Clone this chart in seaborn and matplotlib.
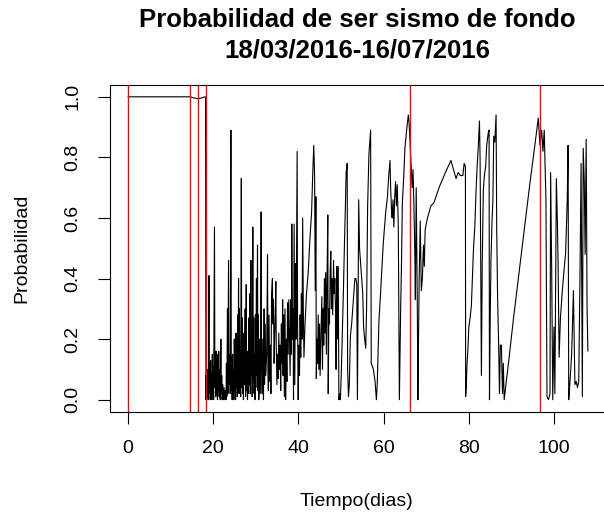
import matplotlib
matplotlib.use("Agg")
import matplotlib.pyplot as plt
import seaborn as sns
import pandas as pd

# ---------------- data ----------------
titulo = ["Probabilidad de ser sismo de fondo", "18/03/2016-16/07/2016"]
etiqueta_x = "Tiempo(dias)"
etiqueta_y = "Probabilidad"

# days of the large events (red vertical lines)
eventos = [0.0, 14.5, 16.5, 18.2, 66.1, 96.6]

ticks_x = [0, 20, 40, 60, 80, 100]
ticks_y = [0.0, 0.2, 0.4, 0.6, 0.8, 1.0]
ticks_y_lbl = ["0.0", "0.2", "0.4", "0.6", "0.8", "1.0"]

dias_a = [0.0, 14.6, 15.3, 16.2, 17.2, 18.0, 18.2]
prob_a = [1.0, 1.0, 0.997, 0.994, 0.996, 1.0, 0.999]

dias_b = [18.30, 18.35, 18.45, 18.55, 18.65, 18.75, 18.85, 19.00, 19.10, 19.20,
          19.30, 19.40, 19.50, 19.60, 19.70, 19.80, 19.90, 20.00, 20.10, 20.30,
          20.40, 20.50, 20.60, 20.70, 20.80, 20.90, 21.00, 21.10, 21.20, 21.30,
          21.40, 21.55, 21.65, 21.80, 21.90, 22.00, 22.10, 22.25, 22.40, 22.55,
          22.70, 22.85, 23.00, 23.10, 23.20, 23.35, 23.45, 23.60, 23.70, 23.85,
          24.00, 24.15, 24.25, 24.35, 24.45, 24.55, 24.65, 24.75, 24.85, 24.95,
          25.05, 25.15, 25.25, 25.35, 25.45, 25.55, 25.65, 25.75, 25.85, 25.95,
          26.05, 26.15, 26.25, 26.35, 26.45, 26.60, 26.70, 26.80, 26.90, 27.00,
          27.10, 27.25, 27.35, 27.50, 27.60, 27.75, 27.85, 27.95, 28.05, 28.15,
          28.25, 28.35, 28.45, 28.60, 28.70, 28.85, 28.95, 29.05, 29.15, 29.30,
          29.40, 29.50, 29.60, 29.70, 29.80, 29.90, 30.00, 30.15, 30.25, 30.40,
          30.50, 30.60, 30.70, 30.85, 30.95]
prob_b = [0.00, 0.08, 0.00, 0.07, 0.01, 0.10, 0.00, 0.41, 0.02, 0.12,
          0.00, 0.13, 0.03, 0.09, 0.00, 0.15, 0.02, 0.11, 0.00, 0.57,
          0.04, 0.14, 0.01, 0.16, 0.02, 0.12, 0.00, 0.15, 0.03, 0.16,
          0.01, 0.10, 0.00, 0.20, 0.02, 0.08, 0.00, 0.05, 0.00, 0.04,
          0.00, 0.03, 0.00, 0.12, 0.01, 0.30, 0.02, 0.46, 0.05, 0.15,
          0.02, 0.89, 0.03, 0.14, 0.00, 0.15, 0.02, 0.10, 0.00, 0.20,
          0.03, 0.12, 0.00, 0.22, 0.04, 0.18, 0.01, 0.28, 0.05, 0.40,
          0.02, 0.30, 0.06, 0.15, 0.01, 0.73, 0.04, 0.27, 0.02, 0.18,
          0.00, 0.22, 0.05, 0.30, 0.01, 0.38, 0.03, 0.16, 0.00, 0.12,
          0.02, 0.27, 0.05, 0.35, 0.02, 0.46, 0.08, 0.22, 0.01, 0.57,
          0.06, 0.27, 0.02, 0.15, 0.00, 0.28, 0.04, 0.40, 0.08, 0.51,
          0.03, 0.28, 0.00, 0.20, 0.02]

dias_c = [31.10, 31.25, 31.35, 31.50, 31.65, 31.80, 31.95, 32.05, 32.20, 32.35,
          32.55, 32.75, 32.85, 32.95, 33.10, 33.25, 33.40, 33.55, 33.70, 33.90,
          34.00, 34.15, 34.30, 34.45, 34.60, 34.70, 34.80, 34.95, 35.10, 35.25,
          35.40, 35.55, 35.70, 35.85, 36.00, 36.15, 36.30, 36.40, 36.55, 36.70,
          36.85, 37.00, 37.15, 37.30, 37.45, 37.60, 37.75, 37.90, 38.05, 38.20,
          38.35, 38.45, 38.60, 38.75, 38.85, 39.00, 39.15, 39.30, 39.45, 39.70,
          39.80, 39.95, 40.10, 40.25, 40.40, 40.55, 40.70, 40.85, 41.00, 41.15,
          41.30, 41.55, 41.90, 42.30, 42.70, 43.10, 43.35, 43.60, 43.80, 43.95,
          44.10, 44.20]
prob_c = [0.10, 0.62, 0.12, 0.02, 0.20, 0.00, 0.30, 0.05, 0.25, 0.08,
          0.15, 0.48, 0.10, 0.03, 0.28, 0.06, 0.18, 0.02, 0.35, 0.40,
          0.25, 0.33, 0.12, 0.22, 0.30, 0.39, 0.18, 0.05, 0.15, 0.07,
          0.22, 0.10, 0.18, 0.03, 0.25, 0.12, 0.33, 0.08, 0.28, 0.01,
          0.30, 0.00, 0.20, 0.06, 0.32, 0.15, 0.33, 0.20, 0.08, 0.33,
          0.15, 0.58, 0.20, 0.30, 0.00, 0.58, 0.05, 0.45, 0.20, 0.82,
          0.25, 0.00, 0.18, 0.08, 0.28, 0.14, 0.35, 0.20, 0.60, 0.30,
          0.14, 0.25, 0.35, 0.42, 0.53, 0.62, 0.74, 0.84, 0.74, 0.36,
          0.67, 0.07]

dias_d = [44.35, 44.50, 44.65, 44.80, 44.95, 45.10, 45.30, 45.50, 45.65, 45.80,
          45.95, 46.10, 46.25, 46.40, 46.55, 46.70, 46.90, 47.00, 47.15, 47.30,
          47.45, 47.60, 47.75, 47.90, 48.05, 48.25, 48.40, 48.55, 48.70, 48.85,
          49.00, 49.15, 49.35, 49.50, 49.70, 49.85, 50.05, 50.30, 50.55, 50.80,
          51.00, 51.20, 51.45, 51.55, 51.75, 51.95, 52.20, 52.50, 52.75, 53.00,
          53.25, 53.50, 53.70, 53.85, 54.00, 54.15, 54.35, 54.60, 54.85, 55.10,
          55.30, 55.55, 55.80, 56.00, 56.25, 56.55, 56.95, 57.10, 57.60, 58.00,
          58.30]
prob_d = [0.20, 0.12, 0.28, 0.10, 0.25, 0.08, 0.22, 0.34, 0.10, 0.30,
          0.18, 0.40, 0.22, 0.42, 0.15, 0.38, 0.61, 0.02, 0.30, 0.25,
          0.42, 0.49, 0.30, 0.40, 0.28, 0.46, 0.35, 0.40, 0.30, 0.10,
          0.44, 0.20, 0.44, 0.00, 0.02, 0.00, 0.08, 0.21, 0.35, 0.51,
          0.62, 0.75, 0.78, 0.10, 0.01, 0.05, 0.21, 0.25, 0.30, 0.35,
          0.40, 0.40, 0.38, 0.00, 0.30, 0.66, 0.50, 0.45, 0.40, 0.35,
          0.24, 0.20, 0.17, 0.30, 0.64, 0.81, 0.89, 0.12, 0.10, 0.06,
          0.00]

dias_e = [58.50, 58.70, 58.90, 59.20, 59.50, 59.85, 60.10, 60.50, 60.90, 61.20,
          61.50, 61.65, 61.85, 62.00, 62.20, 62.40, 62.60, 62.80, 63.00, 63.20,
          63.45, 63.70, 63.85, 64.00, 64.20, 64.40, 64.70, 65.00, 65.40, 65.80,
          66.00, 66.20, 66.45, 66.70, 66.90, 67.10, 67.35, 67.45, 67.65, 67.90,
          68.05, 68.15, 68.35, 68.60, 68.85, 69.10, 69.35, 69.55, 69.75, 70.00,
          70.30]
prob_e = [0.05, 0.15, 0.26, 0.33, 0.41, 0.50, 0.55, 0.62, 0.67, 0.74,
          0.79, 0.70, 0.63, 0.60, 0.66, 0.57, 0.67, 0.72, 0.64, 0.71,
          0.57, 0.00, 0.16, 0.30, 0.45, 0.65, 0.73, 0.83, 0.89, 0.94,
          0.91, 0.85, 0.77, 0.70, 0.76, 0.65, 0.46, 0.33, 0.70, 0.33,
          0.00, 0.15, 0.40, 0.59, 0.36, 0.40, 0.51, 0.44, 0.56, 0.58,
          0.60]

dias_f = [71.10, 71.80, 73.00, 74.50, 75.80, 76.40, 77.00, 77.50, 78.00, 78.60,
          78.90, 79.20, 79.25]
prob_f = [0.64, 0.65, 0.70, 0.75, 0.79, 0.76, 0.73, 0.75, 0.74, 0.74,
          0.78, 0.77, 0.01]

dias_g = [79.40, 79.55, 79.80, 80.00, 80.30, 80.60, 80.85, 81.10, 81.40, 81.70,
          81.95, 82.20, 82.50, 82.65, 82.95, 83.15, 83.40, 83.65, 83.95, 84.20,
          84.55, 84.75, 84.85, 85.00, 85.20, 85.45, 85.65, 85.85, 86.10, 86.40,
          86.55, 86.75, 87.00, 87.20, 87.40, 87.65, 87.90, 88.10, 88.30]
prob_g = [0.04, 0.11, 0.17, 0.24, 0.27, 0.31, 0.41, 0.50, 0.57, 0.69,
          0.77, 0.83, 0.92, 0.79, 0.08, 0.45, 0.69, 0.74, 0.77, 0.84,
          0.88, 0.89, 0.00, 0.24, 0.46, 0.59, 0.66, 0.87, 0.85, 0.94,
          0.56, 0.34, 0.18, 0.02, 0.18, 0.18, 0.02, 0.12, 0.00]

dias_h = [89.30, 90.50, 91.80, 93.00, 94.30, 95.50, 96.30]
prob_h = [0.12, 0.27, 0.42, 0.56, 0.71, 0.84, 0.93]

dias_i = [96.70, 97.10, 97.40, 97.70, 98.10, 98.35, 98.70, 99.05, 99.20, 99.45,
          99.70, 100.00, 100.20, 100.55, 100.80, 100.95, 101.20, 101.50, 101.90, 102.30,
          102.70, 103.10, 103.30, 103.45, 103.70, 104.10, 104.30, 104.55, 104.90, 105.20,
          105.50, 105.80, 106.10, 106.35, 106.65, 106.85, 107.10, 107.30, 107.55, 107.75,
          107.95]
prob_i = [0.84, 0.89, 0.82, 0.89, 0.66, 0.01, 0.00, 0.02, 0.75, 0.43,
          0.00, 0.24, 0.02, 0.73, 0.58, 0.45, 0.14, 0.27, 0.35, 0.42,
          0.48, 0.66, 0.84, 0.00, 0.05, 0.14, 0.23, 0.36, 0.05, 0.06,
          0.04, 0.06, 0.42, 0.78, 0.01, 0.83, 0.72, 0.48, 0.86, 0.31,
          0.16]

dias = dias_a + dias_b + dias_c + dias_d + dias_e + dias_f + dias_g + dias_h + dias_i
prob = prob_a + prob_b + prob_c + prob_d + prob_e + prob_f + prob_g + prob_h + prob_i
df = pd.DataFrame({"dias": dias, "prob": prob})

# ---------------- figure ----------------
sns.set_style("ticks")
plt.rcParams["font.family"] = ["Liberation Sans", "DejaVu Sans"]
plt.rcParams["text.color"] = "black"

W, H = 604, 518
fig = plt.figure(figsize=(W / 100, H / 100), dpi=100)
x0, x1 = -4.318, 112.27
left_px, right_px = 109.6, 606.3
top_px, bot_px = 84.7, 411.8
ax = fig.add_axes([left_px / W, 1 - bot_px / H, (right_px - left_px) / W, (bot_px - top_px) / H])

sns.lineplot(data=df, x="dias", y="prob", ax=ax, color="black", linewidth=0.8,
             sort=False, estimator=None, errorbar=None)
for e in eventos:
    ax.axvline(e, color="red", linewidth=1.0, zorder=3)

ax.set_xlim(x0, x1)
ax.set_ylim(-0.04, 1.04)
ax.set_xticks(ticks_x)
ax.set_xticklabels([str(t) for t in ticks_x])
ax.set_yticks(ticks_y)
ax.set_yticklabels(ticks_y_lbl, rotation=90, va="center")
ax.tick_params(axis="both", length=8.5, width=0.8, color="black", labelsize=14, labelcolor="black")
ax.tick_params(axis="x", pad=12)
ax.tick_params(axis="y", pad=12)
for s in ax.spines.values():
    s.set_visible(True)
    s.set_color("black")
    s.set_linewidth(0.8)
ax.spines["right"].set_visible(False)
ax.set_xlabel("")
ax.set_ylabel("")

fig.text(357 / W, 1 - 501 / H, etiqueta_x, ha="center", va="center", fontsize=14, color="black")
fig.text(22 / W, 1 - 248 / H, etiqueta_y, ha="center", va="center", rotation=90, fontsize=14, color="black")
fig.text(357 / W, 1 - 27 / H, titulo[0], ha="center", va="baseline", fontsize=18.5,
         fontweight="bold", color="black")
fig.text(357 / W, 1 - 57 / H, titulo[1], ha="center", va="baseline", fontsize=18.5,
         fontweight="bold", color="black")

fig.savefig("out.png", dpi=100, facecolor="white")
